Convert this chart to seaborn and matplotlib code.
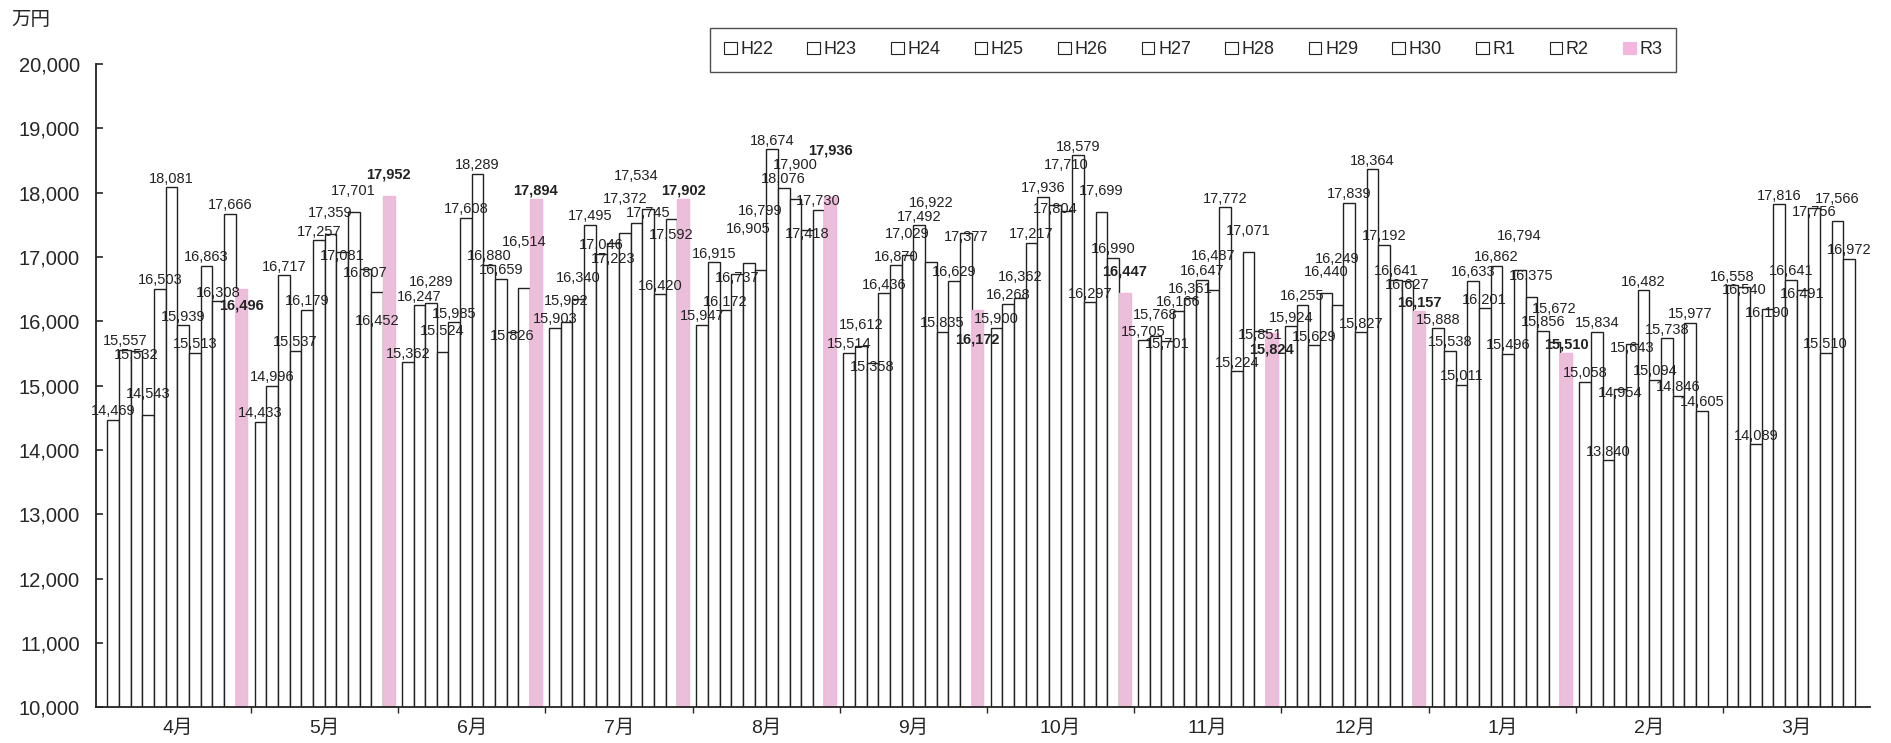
import pandas as pd
import matplotlib.pyplot as plt
import matplotlib.patches as mpatches
import numpy as np
import seaborn as sns

months = ['4月', '5月', '6月', '7月', '8月', '9月', '10月', '11月', '12月', '1月', '2月', '3月']
years = ['H22', 'H23', 'H24', 'H25', 'H26', 'H27', 'H28', 'H29', 'H30', 'R1', 'R2', 'R3']

H22 = [14469, 14433, 15362, 15903, 15947, 15514, 15900, 15705, 15924, 15888, 15058, 16558]
H23 = [15557, 14996, 16247, 15992, 16915, 15612, 16268, 15768, 16255, 15538, 15834, 16540]
H24 = [15532, 16717, 16289, 16340, 16172, 15358, 16362, 15701, 15629, 15011, 13840, 14089]
H25 = [14543, 15537, 15524, 17495, 16737, 16436, 17217, 16166, 16440, 16633, 14954, 16190]
H26 = [16503, 16179, 15985, 17046, 16905, 16870, 17936, 16361, 16249, 16201, 15643, 17816]
H27 = [18081, 17257, 17608, 17223, 16799, 17029, 17804, 16647, 17839, 16862, 16482, 16641]
H28 = [15939, 17359, 18289, 17372, 18674, 17492, 17710, 16487, 15827, 15496, 15094, 16491]
H29 = [15513, 17081, 16880, 17534, 18076, 16922, 18579, 17772, 18364, 16794, 15738, 17756]
H30 = [16863, 17701, 16659, 17745, 17900, 15835, 16297, 15224, 17192, 16375, 14846, 15510]
R1 = [16308, 16807, 15826, 16420, 17418, 16629, 17699, 17071, 16641, 15856, 15977, 17566]
R2 = [17666, 16452, 16514, 17592, 17730, 17377, 16990, 15851, 16627, 15672, 14605, 16972]
R3 = [16496, 17952, 17894, 17902, 17936, 16172, 16447, 15824, 16157, 15510, np.nan, np.nan]

series = [H22, H23, H24, H25, H26, H27, H28, H29, H30, R1, R2, R3]
rows = []
for y, vals in zip(years, series):
    for m, v in zip(months, vals):
        rows.append({'month': m, 'year': y, 'value': v})
df = pd.DataFrame(rows)

pink = '#f3b6dc'
palette = {y: 'white' for y in years}
palette['R3'] = pink

sns.set_style('white')
plt.rcParams['font.family'] = ['Liberation Sans', 'Noto Sans CJK JP']

fig = plt.figure(figsize=(18.91, 7.43), dpi=100)
ax = fig.add_axes([0.051, 0.048, 0.938, 0.866])

sns.barplot(data=df, x='month', y='value', hue='year', order=months, hue_order=years,
            palette=palette, edgecolor='#222222', linewidth=1.0, width=0.95,
            legend=False, ax=ax, errorbar=None)

# pink bars have no outline
for bar in ax.containers[-1]:
    bar.set_edgecolor(pink)

ax.set_ylim(10000, 20000)
ax.set_xlim(-0.55, 11.5)
ax.set_yticks(range(10000, 20001, 1000))
ax.set_yticklabels([f'{v:,}' for v in range(10000, 20001, 1000)], fontsize=14.5)
ax.set_xticks(range(len(months)))
ax.set_xticklabels(months, fontsize=14)
ax.set_xticks([i + 0.5 for i in range(len(months) - 1)], minor=True)
ax.tick_params(axis='y', direction='in', length=5, width=1.2, left=True, pad=12)
ax.tick_params(axis='x', which='major', length=0, pad=9)
ax.tick_params(axis='x', which='minor', direction='out', length=4, width=1.0, bottom=True)
ax.set_xlabel('')
ax.set_ylabel('')
for s in ['top', 'right']:
    ax.spines[s].set_visible(False)
for s in ['left', 'bottom']:
    ax.spines[s].set_linewidth(1.3)
    ax.spines[s].set_color('#222222')

fig.text(0.006, 0.972, '万円', fontsize=14, ha='left', va='center')

# value labels, nudged up/down to avoid overlapping each other
h = 195
half_w = 0.17
placed = []
for i, cont in enumerate(ax.containers):
    bold = years[i] == 'R3'
    for bar in cont:
        v = bar.get_height()
        if np.isnan(v):
            continue
        xc = bar.get_x() + bar.get_width() / 2
        base = v + 25
        for k in [0, 1, -1, 2, -2, 3, -3, 4]:
            yy = base + k * h
            if all(abs(xc - px) >= 2 * half_w or abs(yy - py) >= h for px, py in placed):
                break
        placed.append((xc, yy))
        ax.text(xc, yy, f'{int(v):,}', ha='center', va='bottom', fontsize=10.5,
                fontweight='bold' if bold else 'normal', color='#222222', zorder=5)

handles = [mpatches.Patch(facecolor=palette[y], edgecolor='#222222' if y != 'R3' else pink, linewidth=0.8)
           for y in years]
fig.legend(handles, years, loc='center', bbox_to_anchor=(0.631, 0.933), ncol=12,
           frameon=True, fancybox=False, edgecolor='#222222', fontsize=13,
           handlelength=0.7, handleheight=0.7, handletextpad=0.2, columnspacing=1.9,
           borderpad=0.75)

fig.savefig('out.png', dpi=100)
